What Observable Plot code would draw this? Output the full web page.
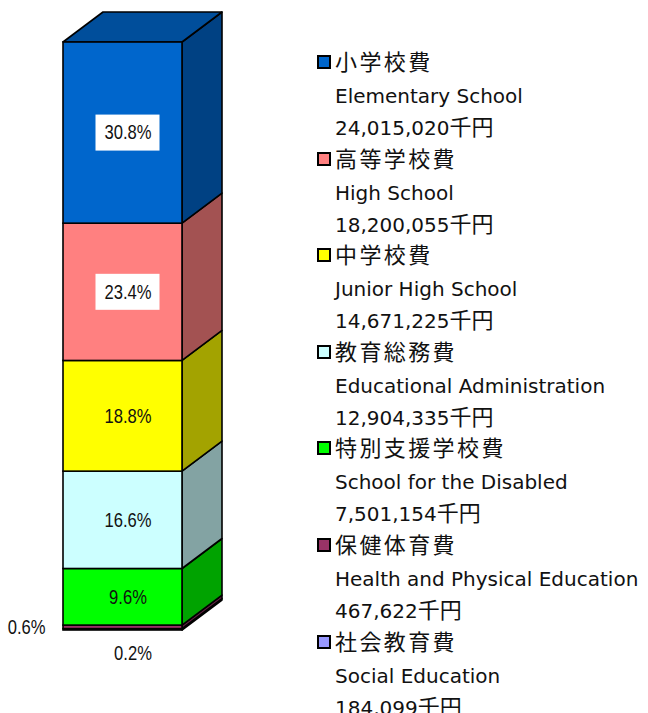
<!DOCTYPE html>
<html>
<head>
<meta charset="utf-8">
<script src="https://cdn.jsdelivr.net/npm/d3@7"></script>
<script src="https://cdn.jsdelivr.net/npm/@observablehq/plot@0.6"></script>
<style>
  html, body { margin: 0; padding: 0; background: #fff; }
  #wrap { position: relative; width: 648px; height: 713px; overflow: hidden; }
  #wrap svg { position: absolute; left: 0; top: 0; }
  .lg { position: absolute; left: 335px; white-space: nowrap; color: #111; }
  .jp { font-family: "Noto Sans CJK JP", sans-serif; font-size: 22px; line-height: 30px; letter-spacing: 2.4px; }
  .en { font-family: "DejaVu Sans", sans-serif; font-size: 20px; line-height: 24px; }
  .en .cj { font-family: "Noto Sans CJK JP", sans-serif; font-size: 22px; line-height: 24px; }
  .sw { position: absolute; left: 317px; width: 14px; height: 14px; box-sizing: border-box; border: 2px solid #000; }
</style>
</head>
<body>
<div id="wrap"></div>
<script>
// ---- data (top of stack first, as in the legend) ----
const categories = ["小学校費", "高等学校費", "中学校費", "教育総務費", "特別支援学校費", "保健体育費", "社会教育費"];
const englishNames = ["Elementary School", "High School", "Junior High School", "Educational Administration", "School for the Disabled", "Health and Physical Education", "Social Education"];
const amounts = [24015020, 18200055, 14671225, 12904335, 7501154, 467622, 184099];
const amountLabels = ["24,015,020", "18,200,055", "14,671,225", "12,904,335", "7,501,154", "467,622", "184,099"];
const percentLabels = ["30.8%", "23.4%", "18.8%", "16.6%", "9.6%", "0.6%", "0.2%"];
const colors = ["#0066CC", "#FF8080", "#FFFF00", "#CCFFFF", "#00FF00", "#993366", "#9999FF"];
const boxedLabels = ["小学校費", "高等学校費"];
const insideLabels = ["小学校費", "高等学校費", "中学校費", "教育総務費", "特別支援学校費"];
const unit = "千円";

// ---- build stacked rows (bottom of stack = last category) ----
const total = d3.sum(amounts);
let acc = 0;
const rows = categories.map((name, i) => ({name, i, value: amounts[i], label: percentLabels[i]}))
  .reverse()
  .map(d => { const y1 = acc; acc += d.value / total * 100; return {...d, y1, y2: acc, mid: (y1 + acc) / 2, group: "total"}; });

const DX = 40, DY = 30;
const colorOf = Object.fromEntries(categories.map((c, i) => [c, colors[i]]));
const shade = (c, k) => { const r = d3.rgb(c); return d3.rgb(r.r * k, r.g * k, r.b * k).formatHex(); };

const W = 648, H = 713, ML = 63, MR = 466, MT = 42, MB = 83;

function bandOf(scales) {
  const x0 = scales.x("total");
  let bw = scales.x.bandwidth;
  if (typeof bw === "function") bw = bw();
  if (typeof bw !== "number" || !isFinite(bw)) bw = W - ML - MR;
  return [x0, x0 + bw];
}

// 3D faces (side + top) drawn from the scales
function depthFaces(index, scales) {
  const [xL, xR] = bandOf(scales);
  const g = d3.create("svg:g").attr("stroke", "#000").attr("stroke-width", 1.6).attr("stroke-linejoin", "round");
  for (const d of rows) {
    const yb = scales.y(d.y1), yt = scales.y(d.y2);
    g.append("path")
      .attr("fill", shade(colorOf[d.name], 0.64))
      .attr("d", `M${xR},${yb}L${xR + DX},${yb - DY}L${xR + DX},${yt - DY}L${xR},${yt}Z`);
  }
  const top = rows[rows.length - 1];
  const yt = scales.y(top.y2);
  g.append("path")
    .attr("fill", shade(colorOf[top.name], 0.76))
    .attr("d", `M${xL},${yt}L${xL + DX},${yt - DY}L${xR + DX},${yt - DY}L${xR},${yt}Z`);
  return g.node();
}

function labelBoxes(index, scales) {
  const [xL, xR] = bandOf(scales);
  const g = d3.create("svg:g");
  for (const d of rows.filter(r => boxedLabels.includes(r.name))) {
    const cx = (xL + xR) / 2 + 5, cy = scales.y(d.mid);
    g.append("rect").attr("x", cx - 32).attr("y", cy - 18).attr("width", 64).attr("height", 36).attr("fill", "#fff");
  }
  return g.node();
}

const labelFont = "'Liberation Sans', Arial, sans-serif";

const chart = Plot.plot({
  width: W, height: H,
  marginLeft: ML, marginRight: MR, marginTop: MT, marginBottom: MB,
  x: {type: "band", domain: ["total"], padding: 0, axis: null},
  y: {domain: [0, 100], axis: null},
  color: {domain: categories, range: colors},
  marks: [
    depthFaces,
    Plot.barY(rows, {x: "group", y1: "y1", y2: "y2", fill: "name", stroke: "#000", strokeWidth: 1.6, insetLeft: 0, insetRight: 0}),
    labelBoxes,
    Plot.text(rows.filter(d => insideLabels.includes(d.name)), {
      x: "group", y: "mid", text: "label", dx: 5, fill: "#111",
      fontSize: 20, fontFamily: labelFont, className: "narrow"
    }),
    Plot.text(rows.filter(d => d.name === "保健体育費"), {
      y: "mid", text: "label", frameAnchor: "left", textAnchor: "end", dx: -18, fill: "#111",
      fontSize: 20, fontFamily: labelFont, className: "narrow"
    }),
    Plot.text(rows.filter(d => d.name === "社会教育費"), {
      x: "group", y: "mid", text: "label", dx: 10, dy: 24, fill: "#111",
      fontSize: 20, fontFamily: labelFont, className: "narrow"
    })
  ]
});

// condense the percentage labels horizontally (narrow gothic look)
d3.select(chart).selectAll(".narrow text").each(function() {
  const t = this.getAttribute("transform") || "";
  this.setAttribute("transform", t + " scale(0.83,1)");
});

const wrap = document.getElementById("wrap");
wrap.appendChild(chart);

// ---- legend ----
categories.forEach((name, i) => {
  const c = 62 + 96.6 * i;
  const sw = document.createElement("div");
  sw.className = "sw"; sw.style.top = (c - 7) + "px"; sw.style.background = colors[i];
  wrap.appendChild(sw);
  const t = document.createElement("div");
  t.className = "lg jp"; t.style.top = (c - 17) + "px"; t.textContent = name;
  wrap.appendChild(t);
  const e = document.createElement("div");
  e.className = "lg en"; e.style.top = (c + 22) + "px"; e.textContent = englishNames[i];
  wrap.appendChild(e);
  const v = document.createElement("div");
  v.className = "lg en"; v.style.top = (c + 51) + "px";
  v.innerHTML = amountLabels[i] + `<span class="cj">${unit}</span>`;
  wrap.appendChild(v);
});
</script>
</body>
</html>
